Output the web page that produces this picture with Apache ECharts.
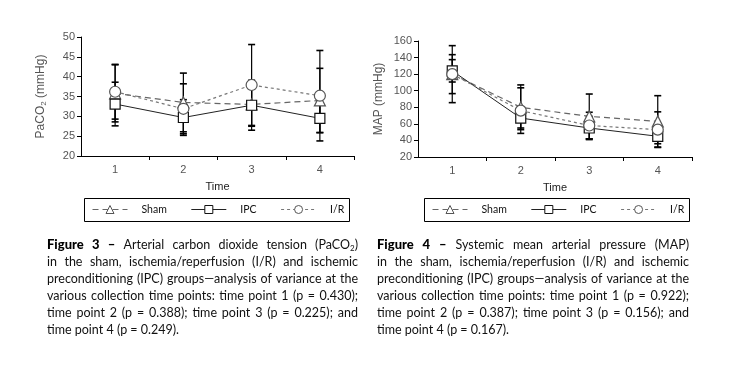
<!DOCTYPE html>
<html><head><meta charset="utf-8">
<script src="https://cdn.jsdelivr.net/npm/echarts@6/dist/echarts.min.js"></script>
<style>html,body{margin:0;padding:0;background:#fff}#c{width:734px;height:367px}</style>
</head><body><div id="c"></div>
<script>
// ---- data ----
var timePoints = [1, 2, 3, 4];
var xTickLabels = ['1', '2', '3', '4'];
var seriesNames = ['Sham', 'IPC', 'I/R'];
// Figure 3: PaCO2 (mmHg), mean and SD
var paco2Sham = [35.8, 33.5, 33.0, 34.0];
var paco2ShamSD = [7.2, 7.4, 5.5, 8.1];
var paco2IPC = [33.1, 29.7, 32.8, 29.5];
var paco2IPCSD = [5.5, 4.5, 6.3, 3.6];
var paco2IR = [36.2, 31.9, 37.9, 35.2];
var paco2IRSD = [6.9, 6.3, 10.2, 11.4];
// Figure 4: MAP (mmHg), mean and SD
var mapSham = [120, 80, 69, 63];
var mapShamSD = [23.5, 27, 27, 31];
var mapIPC = [124, 67, 55, 45];
var mapIPCSD = [13.5, 12, 14, 9];
var mapIR = [120, 76, 58, 53];
var mapIRSD = [34.4, 27.5, 16, 21.5];

var caption3 = [
  [['Figure', 'b'], ['3', 'b'], ['–', 'b'], 'Arterial', 'carbon', 'dioxide', 'tension', [['(PaCO', 'n'], ['2', 's'], [')', 'n']]],
  'in the sham, ischemia/reperfusion (I/R) and ischemic',
  'preconditioning (IPC) groups—analysis of variance at the',
  'various collection time points: time point 1 (p = 0.430);',
  'time point 2 (p = 0.388); time point 3 (p = 0.225); and',
  'time point 4 (p = 0.249).'
];
var caption4 = [
  [['Figure', 'b'], ['4', 'b'], ['–', 'b'], 'Systemic', 'mean', 'arterial', 'pressure', '(MAP)'],
  'in the sham, ischemia/reperfusion (I/R) and ischemic',
  'preconditioning (IPC) groups—analysis of variance at the',
  'various collection time points: time point 1 (p = 0.922);',
  'time point 2 (p = 0.387); time point 3 (p = 0.156); and',
  'time point 4 (p = 0.167).'
];

// ---- helpers ----
var FONT_FAMILY = 'Lato';
var mctx = document.createElement('canvas').getContext('2d');
function segStyle(kind, fs) {
  if (kind === 'b') return { fontFamily: FONT_FAMILY, fontSize: fs + 0.5, fontWeight: 900, fill: '#000' };
  if (kind === 's') return { fontFamily: FONT_FAMILY, fontSize: Math.round(fs * 0.62), fontWeight: 'normal', fill: '#111' };
  return { fontFamily: FONT_FAMILY, fontSize: fs, fontWeight: 'normal', fill: '#111' };
}
function measure(seg, fs) {
  var st = segStyle(seg[1], fs);
  mctx.font = (st.fontWeight === 'normal' ? '' : st.fontWeight + ' ') + st.fontSize + 'px ' + st.fontFamily;
  return mctx.measureText(seg[0]).width;
}
function spaceW(fs) { mctx.font = fs + 'px ' + FONT_FAMILY; return mctx.measureText(' ').width; }
function normLine(line) {
  var words = [];
  if (typeof line === 'string') {
    line.split(' ').forEach(function (w) { words.push([[w, 'n']]); });
  } else {
    line.forEach(function (w) {
      if (typeof w === 'string') words.push([[w, 'n']]);
      else if (typeof w[0] === 'string') words.push([w]);
      else words.push(w);
    });
  }
  return words;
}
function wordW(w, fs) { return w.reduce(function (a, s) { return a + measure(s, fs); }, 0); }
function naturalW(line, fs) {
  var words = normLine(line);
  var t = words.reduce(function (a, w) { return a + wordW(w, fs); }, 0);
  return t + spaceW(fs) * (words.length - 1);
}
function captionGraphics(lines, x0, x1, y0, lh) {
  var W = x1 - x0, base = 10, maxW = 0;
  lines.forEach(function (l, i) { if (i < lines.length - 1) maxW = Math.max(maxW, naturalW(l, base)); });
  var fs = Math.min(12.5, base * W / maxW);
  var els = [];
  lines.forEach(function (line, li) {
    var words = normLine(line);
    var widths = words.map(function (w) { return wordW(w, fs); });
    var total = widths.reduce(function (a, b) { return a + b; }, 0);
    var last = li === lines.length - 1;
    var gap = last ? spaceW(fs) : (W - total) / (words.length - 1);
    var x = x0;
    words.forEach(function (w, wi) {
      var cx = x;
      w.forEach(function (seg) {
        var st = segStyle(seg[1], fs);
        els.push({
          type: 'text', silent: true,
          style: {
            text: seg[0], x: cx, y: y0 + li * lh + (seg[1] === 's' ? 3 : 0),
            fontFamily: st.fontFamily, fontSize: st.fontSize, fontWeight: st.fontWeight,
            fill: st.fill, verticalAlign: 'middle', align: 'left'
          }
        });
        cx += measure(seg, fs);
      });
      x += widths[wi] + gap;
    });
  });
  return els;
}

var AX_LABEL = { color: '#555', fontFamily: 'Liberation Sans', fontSize: 11 };
function xAxis(gi) {
  return {
    type: 'value', gridIndex: gi, min: 0.5, max: 4.5,
    name: 'Time', nameLocation: 'middle', nameGap: 25,
    nameTextStyle: { color: '#222', fontFamily: 'Liberation Sans', fontSize: 11 },
    axisLine: { lineStyle: { color: '#000', width: 1 } },
    axisTick: { show: true, length: 4, lineStyle: { color: '#000' }, customValues: [1.5, 2.5, 3.5, 4.5] },
    axisLabel: Object.assign({ margin: 8, customValues: timePoints, formatter: function (v) { return xTickLabels[timePoints.indexOf(v)] || ''; } }, AX_LABEL),
    splitLine: { show: false }
  };
}
function yAxis(gi, min, max, interval, name, nameGap) {
  return {
    type: 'value', gridIndex: gi, min: min, max: max, interval: interval,
    name: name, nameLocation: 'middle', nameGap: nameGap,
    nameTextStyle: {
      color: '#555', fontFamily: 'Liberation Sans', fontSize: 12,
      rich: { a: { color: '#555', fontFamily: 'Liberation Sans', fontSize: 12 }, s: { color: '#555', fontFamily: 'Liberation Sans', fontSize: 8, padding: [0, 0, -6, 0] } }
    },
    axisLine: { show: true, lineStyle: { color: '#000', width: 1 } },
    axisTick: { show: true, length: 4, lineStyle: { color: '#000' } },
    axisLabel: Object.assign({ margin: 6 }, AX_LABEL),
    splitLine: { show: false }
  };
}
var lineDefs = {
  'Sham': { symbol: 'triangle', size: 11, color: '#666', type: [6, 4], width: 1.2, z: 3 },
  'IPC': { symbol: 'rect', size: 10, color: '#222', type: 'solid', width: 1, z: 4 },
  'I/R': { symbol: 'circle', size: 11, color: '#777', type: [3, 3], width: 1.2, z: 5 }
};
function lineSeries(name, vals, gi) {
  var d = lineDefs[name];
  return {
    name: name, type: 'line', xAxisIndex: gi, yAxisIndex: gi, z: d.z,
    data: timePoints.map(function (t, i) { return [t, vals[i]]; }),
    symbol: d.symbol, symbolSize: d.size, showSymbol: true,
    lineStyle: { color: d.color, type: d.type, width: d.width },
    itemStyle: { color: '#fff', borderColor: d.color === '#222' ? '#111' : '#555', borderWidth: 1.2 },
    emphasis: { disabled: true }, animation: false
  };
}
function errSeries(name, vals, sds, gi) {
  return {
    name: name + ' SD', type: 'custom', xAxisIndex: gi, yAxisIndex: gi, z: 2, animation: false,
    data: timePoints.map(function (t, i) { return [t, vals[i] - sds[i], vals[i] + sds[i]]; }),
    encode: { x: 0, y: [1, 2] },
    renderItem: function (params, api) {
      var lo = api.coord([api.value(0), api.value(1)]);
      var hi = api.coord([api.value(0), api.value(2)]);
      var hw = 3.5;
      return {
        type: 'group', children: [
          { type: 'line', shape: { x1: lo[0], y1: lo[1], x2: hi[0], y2: hi[1] }, style: { stroke: '#000', lineWidth: 1.2 } },
          { type: 'line', shape: { x1: lo[0] - hw, y1: lo[1], x2: lo[0] + hw, y2: lo[1] }, style: { stroke: '#000', lineWidth: 1.6 } },
          { type: 'line', shape: { x1: hi[0] - hw, y1: hi[1], x2: hi[0] + hw, y2: hi[1] }, style: { stroke: '#000', lineWidth: 1.6 } }
        ]
      };
    }
  };
}
function legend(left) {
  return {
    left: left, top: 204, padding: 0, data: seriesNames, itemWidth: 35, itemHeight: 10, itemGap: 24,
    selectedMode: false,
    itemStyle: { borderWidth: 1 },
    lineStyle: { width: 1 },
    textStyle: { color: '#111', fontFamily: FONT_FAMILY, fontSize: 10.5, padding: [0, 0, 0, 9] }
  };
}

var chart = echarts.init(document.getElementById('c'), null, { renderer: 'canvas' });
var graphics = [
  { type: 'rect', shape: { x: 84.5, y: 198.5, width: 265, height: 23 }, style: { fill: 'none', stroke: '#000', lineWidth: 1 }, silent: true },
  { type: 'rect', shape: { x: 424.5, y: 198.5, width: 265, height: 23 }, style: { fill: 'none', stroke: '#000', lineWidth: 1 }, silent: true }
].concat(captionGraphics(caption3, 47, 358, 245, 17)).concat(captionGraphics(caption4, 377, 689, 245, 17));

chart.setOption({
  animation: false,
  backgroundColor: '#fff',
  grid: [
    { left: 81, right: 380, top: 37, bottom: 211 },
    { left: 418, right: 42, top: 41, bottom: 210 }
  ],
  xAxis: [xAxis(0), xAxis(1)],
  yAxis: [
    yAxis(0, 20, 50, 5, '{a|PaCO}{s|2}{a| (mmHg)}', 34),
    yAxis(1, 20, 160, 20, 'MAP (mmHg)', 33)
  ],
  legend: [legend(92), legend(432)],
  series: [
    errSeries('Sham', paco2Sham, paco2ShamSD, 0),
    errSeries('IPC', paco2IPC, paco2IPCSD, 0),
    errSeries('I/R', paco2IR, paco2IRSD, 0),
    lineSeries('Sham', paco2Sham, 0),
    lineSeries('IPC', paco2IPC, 0),
    lineSeries('I/R', paco2IR, 0),
    errSeries('Sham', mapSham, mapShamSD, 1),
    errSeries('IPC', mapIPC, mapIPCSD, 1),
    errSeries('I/R', mapIR, mapIRSD, 1),
    lineSeries('Sham', mapSham, 1),
    lineSeries('IPC', mapIPC, 1),
    lineSeries('I/R', mapIR, 1)
  ],
  graphic: graphics
});
</script></body></html>
